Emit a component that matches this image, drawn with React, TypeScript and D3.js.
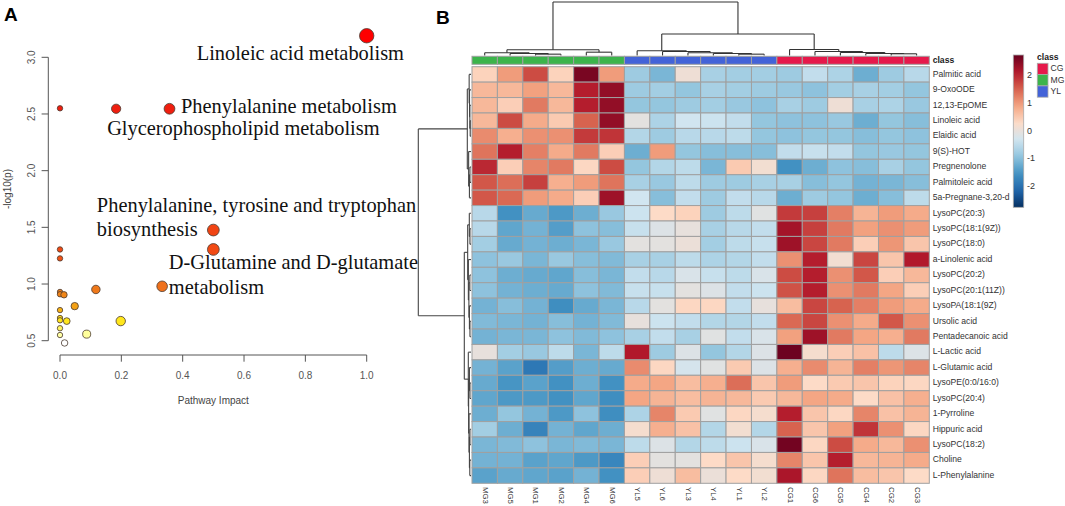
import * as d3 from "d3";

// ---------- panel A: pathway impact vs -log10(p) ----------
const pathwayImpact = [1.0, 0.183, 0.357, 0.0, 0.5, 0.5, 0.333, 0.0, 0.0, 0.117, 0.0, 0.0, 0.013, 0.048, 0.0, 0.0, 0.0, 0.022, 0.198, 0.0, 0.0, 0.087, 0.015];
const pathwayLogP = [3.19, 2.546, 2.546, 2.55, 1.476, 1.305, 0.98, 1.305, 1.226, 0.952, 0.93, 0.91, 0.905, 0.805, 0.77, 0.7, 0.68, 0.673, 0.673, 0.61, 0.55, 0.558, 0.48];
const labelText = [
  ["Linoleic acid metabolism"],
  ["Phenylalanine metabolism"],
  ["Glycerophospholipid metabolism"],
  ["Phenylalanine, tyrosine and tryptophan", "biosynthesis"],
  ["D-Glutamine and D-glutamate", "metabolism"],
];
const labelPoint = [0, 2, 1, 4, 5];

// ---------- panel B: heatmap ----------
const samples = ["MG3", "MG5", "MG1", "MG2", "MG4", "MG6", "YL5", "YL6", "YL3", "YL4", "YL1", "YL2", "CG1", "CG6", "CG5", "CG4", "CG2", "CG3"];
const classNames = ["CG", "MG", "YL"];
const classColors = ["#e6194b", "#3cb44b", "#4363d8"];
const metabolites = [
  "Palmitic acid", "9-OxoODE", "12,13-EpOME", "Linoleic acid", "Elaidic acid", "9(S)-HOT", "Pregnenolone",
  "Palmitoleic acid", "5a-Pregnane-3,20-d", "LysoPC(20:3)", "LysoPC(18:1(9Z))", "LysoPC(18:0)", "a-Linolenic acid",
  "LysoPC(20:2)", "LysoPC(20:1(11Z))", "LysoPA(18:1(9Z)", "Ursolic acid", "Pentadecanoic acid", "L-Lactic acid",
  "L-Glutamic acid", "LysoPE(0:0/16:0)", "LysoPC(20:4)", "1-Pyrroline", "Hippuric acid", "LysoPC(18:2)", "Choline",
  "L-Phenylalanine",
];
const zScores = [
  [0.4, 1.0, 1.7, 0.4, 2.6, 1.0, -0.8, -1.1, 0.1, -0.7, -0.75, -0.75, -0.8, -0.45, -0.65, -1.2, -0.8, -0.55],
  [0.7, 0.7, 0.95, 0.7, 2.1, 2.4, -0.8, -0.75, -0.9, -0.7, -0.75, -0.8, -0.85, -0.95, -0.75, -0.7, -0.75, -0.9],
  [0.7, 0.45, 1.3, 0.7, 2.1, 2.4, -0.9, -0.9, -0.8, -0.75, -0.85, -0.95, -0.7, -0.8, 0.1, -0.7, -0.65, -0.85],
  [0.7, 1.7, 0.85, 0.5, 1.5, 2.4, -0.05, -0.65, -0.3, -0.35, -0.45, -0.9, -0.95, -0.95, -0.85, -1.2, -0.9, -1.0],
  [1.15, 0.8, 1.1, 1.1, 1.85, 1.9, -0.6, -0.8, -0.55, -0.55, -0.5, -0.9, -0.95, -0.9, -0.9, -1.0, -0.9, -0.95],
  [1.35, 2.1, 1.25, 0.85, 1.3, 0.45, -1.2, 1.0, -0.9, -1.0, -1.0, -1.0, -0.45, -0.4, -0.45, -0.9, -0.85, -0.9],
  [2.0, 0.45, 1.2, 1.3, 0.35, 1.7, -0.9, -0.6, -0.5, -1.1, 0.5, 0.15, -1.55, -1.2, -0.95, -1.0, -0.7, -0.9],
  [1.6, 1.4, 1.8, 0.8, 1.0, 1.35, -0.7, -0.85, -0.5, -0.8, -0.8, -0.7, -0.7, -1.0, -0.9, -1.15, -1.1, -1.0],
  [1.6, 1.45, 1.0, 0.85, 0.45, 2.3, -0.3, -1.0, -0.45, -0.8, -0.45, -0.55, -1.2, -0.8, -0.9, -1.2, -1.0, -0.5],
  [-0.55, -1.55, -1.25, -1.45, -1.2, -0.85, -0.35, 0.3, 0.4, -0.8, -0.5, -0.1, 1.85, 1.8, 1.25, 0.75, 1.0, 0.85],
  [-0.55, -1.3, -1.15, -1.4, -0.95, -1.0, -0.4, -0.15, 0.0, -0.7, -0.55, -0.45, 2.25, 1.8, 1.3, 0.95, 1.1, 1.0],
  [-0.75, -1.25, -1.15, -1.2, -1.1, -0.85, -0.05, -0.05, 0.05, -0.75, -0.5, -0.4, 2.3, 1.75, 1.3, 0.45, 1.05, 0.55],
  [-0.95, -0.85, -1.1, -0.85, -1.0, -1.05, -0.7, -0.7, -0.5, -0.65, -0.6, -0.45, 1.1, 2.1, 0.15, 1.75, 0.55, 2.15],
  [-0.95, -1.2, -1.25, -1.3, -1.0, -1.1, -0.45, -0.55, -0.2, -0.4, -0.5, -0.2, 1.7, 2.1, 1.1, 1.6, 0.45, 0.7],
  [-0.95, -1.15, -1.2, -1.25, -0.95, -1.05, -0.4, -0.4, -0.05, -0.15, -0.45, -0.35, 1.65, 2.1, 1.1, 1.3, 0.9, 0.45],
  [-1.15, -1.0, -1.15, -1.6, -1.25, -1.1, -0.55, -0.05, 0.35, 0.35, -0.45, 0.0, 0.65, 1.75, 1.5, 1.25, 1.0, 0.85],
  [-1.05, -1.1, -1.15, -1.0, -1.15, -1.05, 0.0, -0.35, -0.45, -0.6, -0.6, -0.45, 1.45, 1.75, 1.1, 0.85, 1.6, 1.1],
  [-1.15, -1.1, -1.1, -0.95, -1.05, -0.95, -0.7, -0.45, -0.7, -0.1, -0.45, -0.2, 0.95, 2.3, 1.3, 0.9, 0.8, 1.3],
  [0.0, -0.75, -0.85, -0.5, -1.1, -0.5, 2.15, -0.8, -0.15, -0.9, -0.6, -0.15, 2.7, 0.2, 0.45, 0.6, -0.5, -0.15],
  [-1.15, -1.35, -1.9, -1.4, -1.2, -1.25, 1.15, 0.35, -0.25, -0.1, 0.5, -0.15, 0.8, 1.15, 0.75, 1.25, 1.05, 1.2],
  [-1.25, -1.5, -1.35, -1.55, -1.2, -1.55, 0.85, 0.9, 0.65, 0.8, 1.4, 0.55, 1.0, 0.3, 0.5, 0.55, 0.4, 0.35],
  [-1.3, -1.45, -1.45, -1.55, -1.3, -1.6, 0.9, 0.75, 0.65, 0.75, 0.7, 0.5, 0.7, 0.9, 0.85, 0.3, 0.6, 0.8],
  [-1.2, -0.9, -1.15, -1.45, -0.95, -1.6, -0.65, 1.2, 0.5, -0.1, 0.35, 0.2, 2.1, 0.55, 0.35, 1.2, 0.6, 0.75],
  [-0.75, -1.2, -1.75, -1.15, -1.3, -1.2, 0.2, 0.8, 0.6, -0.6, 0.15, -0.6, 1.5, 0.55, 0.95, 1.9, 1.1, 0.35],
  [-1.1, -1.05, -0.95, -1.1, -1.05, -1.1, -0.5, -0.15, -0.6, -0.5, -0.35, -0.2, 2.65, 0.35, 1.7, 0.85, 0.7, 1.1],
  [-1.15, -1.15, -1.35, -1.3, -1.45, -1.7, 0.45, -0.05, -0.05, 0.3, 0.55, 0.2, 1.2, 0.55, 2.1, 0.7, 0.75, 0.85],
  [-1.35, -1.25, -1.3, -1.35, -1.15, -1.55, 0.45, 0.1, 0.65, 0.05, 0.3, 0.15, 2.2, 0.35, 1.35, 0.65, 0.55, 0.3],
];
const legendTicks = [2, 1, 0, -1, -2];
const heatPalette = ["#053061", "#2166AC", "#4393C3", "#92C5DE", "#D1E5F0", "#FDDBC7", "#F4A582", "#D6604D", "#B2182B", "#67001F"];

// dendrograms: merge height + two children, leaves are sample names / row indices
type Tree = { h: number; c: (Tree | string | number)[] };
const m = (h: number, a: Tree | string | number, b: Tree | string | number): Tree => ({ h, c: [a, b] });

const sampleTree = m(100,
  m(10.8, m(5.1, "MG3", m(3.8, "MG5", m(2.5, "MG1", "MG2"))), m(6.2, "MG4", "MG6")),
  m(40.2,
    m(8.9, "YL5", m(7.5, "YL6", m(5.1, "YL3", m(3.8, "YL4", m(2.5, "YL1", "YL2"))))),
    m(11.3, "CG1", m(7.5, "CG6", m(5.7, "CG5", m(3.8, "CG4", m(3.2, "CG2", "CG3")))))));

const metaboliteTree = m(100,
  m(7.0,
    m(3.5, 0, m(2.8, 1, m(2.2, 2, m(1.5, 3, 4)))),
    m(4.5, 5, m(3.0, m(2.0, 6, 7), 8))),
  m(12.7,
    m(6.3, m(3.2, 9, m(2.0, 10, 11)), m(5.0, 12, m(4.0, m(2.2, 13, 14), m(3.0, 15, m(2.0, 16, 17))))),
    m(5.1, 18, m(4.5, m(3.0, 19, m(2.0, 20, 21)), m(3.8, 22, m(3.0, m(2.0, 23, 24), m(2.3, 25, 26)))))));

// returns segments as [along1, height1, along2, height2]
function dendroSegments(tree: Tree, leafPos: (l: any) => number, hPos: (h: number) => number) {
  const root: any = d3.hierarchy<any>(tree, (d) => (typeof d === "object" ? d.c : null));
  const segs: number[][] = [];
  root.eachAfter((node: any) => {
    if (!node.children) {
      node.p = leafPos(node.data);
      node.hv = hPos(0);
    } else {
      const [a, b] = node.children;
      node.p = (a.p + b.p) / 2;
      node.hv = hPos(node.data.h);
      segs.push([a.p, a.hv, a.p, node.hv], [b.p, b.hv, b.p, node.hv], [a.p, node.hv, b.p, node.hv]);
    }
  });
  return segs;
}

const sans = "Liberation Sans, Arial, Helvetica, sans-serif";
const serif = "Liberation Serif, Times New Roman, serif";

function PanelA() {
  const x = d3.scaleLinear().domain([0, 1]).range([60, 366.7]);
  const y = d3.scaleLinear().domain([0.5, 3]).range([340.7, 57.3]);
  const r = d3.scaleSqrt().domain([0, 1]).range([2.7, 7.2]);
  const color = d3
    .scaleLinear<string>()
    .domain([0.48, 0.56, 0.67, 0.8, 1.0, 1.3, 2.5, 3.2])
    .range(["#ffffff", "#ffff99", "#ffe81c", "#f4a214", "#ee6c1c", "#f24a14", "#ee2010", "#ff0000"]);

  // label offsets from their point, in px
  const offsets = [[-170, 24], [11.5, 4.5], [-9, 26.5], [-116.5, -18], [-44.5, 20]];
  const lineGap = [0, 0, 0, 24, 25];

  const order = d3.range(pathwayImpact.length).sort((a, b) => pathwayImpact[a] - pathwayImpact[b]);

  return (
    <g>
      <text x={4} y={21} fontFamily={sans} fontWeight="bold" fontSize={19}>A</text>
      {/* y axis */}
      <line x1={48.3} x2={48.3} y1={y(0.5)} y2={y(3)} stroke="#555" />
      {y.ticks(5).map((t) => (
        <g key={t}>
          <line x1={41.6} x2={48.3} y1={y(t)} y2={y(t)} stroke="#555" />
          <text transform={`translate(35,${y(t)}) rotate(-90)`} textAnchor="middle" fontFamily={sans} fontSize={10} fill="#555">
            {d3.format(".1f")(t)}
          </text>
        </g>
      ))}
      <text transform={`translate(10.5,189) rotate(-90)`} textAnchor="middle" fontFamily={sans} fontSize={10} fill="#444">-log10(p)</text>
      {/* x axis */}
      <line x1={x(0)} x2={x(1)} y1={355} y2={355} stroke="#555" />
      {x.ticks(5).map((t) => (
        <g key={t}>
          <line x1={x(t)} x2={x(t)} y1={355} y2={361.7} stroke="#555" />
          <text x={x(t)} y={378.5} textAnchor="middle" fontFamily={sans} fontSize={10} fill="#555">
            {d3.format(".1f")(t)}
          </text>
        </g>
      ))}
      <text x={213.3} y={403.5} textAnchor="middle" fontFamily={sans} fontSize={10} fill="#444">Pathway Impact</text>
      {order.map((i) => (
        <circle key={i} cx={x(pathwayImpact[i])} cy={y(pathwayLogP[i])} r={r(pathwayImpact[i])}
          fill={color(pathwayLogP[i])} stroke="#4a3a30" strokeWidth={0.8} />
      ))}
      {labelText.map((lines, k) => {
        const i = labelPoint[k];
        const px = x(pathwayImpact[i]) + offsets[k][0];
        const py = y(pathwayLogP[i]) + offsets[k][1];
        return (
          <text key={k} fontFamily={serif} fontSize={20.4} fill="#111">
            {lines.map((s, j) => (
              <tspan key={j} x={px} y={py + j * lineGap[k]}>{s}</tspan>
            ))}
          </text>
        );
      })}
    </g>
  );
}

function PanelB() {
  const x = d3.scaleBand<string>().domain(samples).range([472, 929.3]);
  const y = d3.scaleBand<string>().domain(metabolites).range([66.7, 483.3]);
  const bw = x.bandwidth();
  const bh = y.bandwidth();
  const fill = d3
    .scaleLinear<string>()
    .domain(heatPalette.map((_, i) => -2.75 + (i * 5.5) / (heatPalette.length - 1)))
    .range(heatPalette)
    .clamp(true);
  const classColor = d3.scaleOrdinal<string>().domain(classNames).range(classColors);

  const colH = d3.scaleLinear().domain([0, 100]).range([55.5, 2]);
  const rowH = d3.scaleLinear().domain([0, 100]).range([471, 418.3]);
  const colSegs = dendroSegments(sampleTree, (s) => x(s)! + bw / 2, colH);
  const rowSegs = dendroSegments(metaboliteTree, (i) => y(metabolites[i])! + bh / 2, rowH);

  const legendY = d3.scaleLinear().domain([-2.75, 2.75]).range([207.3, 55]);
  const stops = d3.range(0, 1.0001, 0.05);

  return (
    <g>
      <text x={436} y={24} fontFamily={sans} fontWeight="bold" fontSize={19}>B</text>
      {colSegs.map((s, k) => (
        <line key={k} x1={s[0]} y1={s[1]} x2={s[2]} y2={s[3]} stroke="#333" strokeWidth={1.1} />
      ))}
      {rowSegs.map((s, k) => (
        <line key={k} x1={s[1]} y1={s[0]} x2={s[3]} y2={s[2]} stroke="#444" strokeWidth={1.1} />
      ))}
      {/* class bar */}
      {samples.map((s) => (
        <rect key={s} x={x(s)} y={56.3} width={bw} height={8} fill={classColor(s.slice(0, 2))} stroke="#a0a0a0" strokeWidth={1} />
      ))}
      <text x={932.7} y={60.5} dominantBaseline="middle" fontFamily={sans} fontWeight="bold" fontSize={8.6} fill="#222">class</text>
      {/* cells */}
      {metabolites.map((name, i) =>
        samples.map((s, j) => (
          <rect key={`${i}-${j}`} x={x(s)} y={y(name)} width={bw} height={bh} fill={fill(zScores[i][j])} stroke="#a0a0a0" strokeWidth={1} />
        ))
      )}
      {metabolites.map((name) => (
        <text key={name} x={932.7} y={y(name)! + bh / 2} dominantBaseline="middle" fontFamily={sans} fontSize={8.6} fill="#333">{name}</text>
      ))}
      {samples.map((s) => (
        <text key={s} transform={`translate(${x(s)! + bw / 2},487) rotate(90)`} dominantBaseline="middle" fontFamily={sans} fontSize={7.8} fill="#333">{s}</text>
      ))}
      {/* colour key */}
      <defs>
        <linearGradient id="heatkey" x1="0" y1="1" x2="0" y2="0">
          {stops.map((t) => (
            <stop key={t} offset={t} stopColor={fill(-2.75 + t * 5.5)} />
          ))}
        </linearGradient>
      </defs>
      <rect x={1013.3} y={55} width={10.4} height={152.3} fill="url(#heatkey)" stroke="#aaa" strokeWidth={0.8} />
      {legendTicks.map((t) => (
        <text key={t} x={1027} y={legendY(t)} dominantBaseline="middle" fontFamily={sans} fontSize={9} fill="#333">{t}</text>
      ))}
      <text x={1037} y={57.8} dominantBaseline="middle" fontFamily={sans} fontWeight="bold" fontSize={8.6} fill="#222">class</text>
      {classNames.map((c, i) => (
        <g key={c}>
          <rect x={1037.3} y={63.3 + i * 11.3} width={10.7} height={11.3} fill={classColor(c)} stroke="#aaa" strokeWidth={0.8} />
          <text x={1050.5} y={69 + i * 11.3} dominantBaseline="middle" fontFamily={sans} fontSize={8.6} fill="#333">{c}</text>
        </g>
      ))}
    </g>
  );
}

export default function App() {
  return (
    <svg width={1065} height={506} style={{ position: "absolute", left: 0, top: 0, background: "#fff" }}>
      <PanelA />
      <PanelB />
    </svg>
  );
}
